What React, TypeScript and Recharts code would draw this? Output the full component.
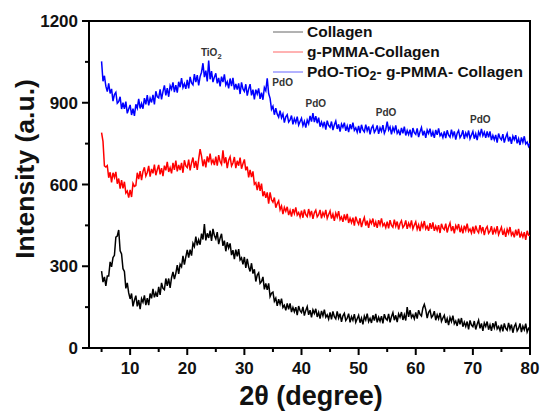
import React from "react"
import {
  Label,
  Legend,
  Line,
  LineChart,
  ReferenceArea,
  ReferenceDot,
  XAxis,
  YAxis,
} from "recharts"

// XRD scans, every 0.25 degree from 5 to 80 (2θ)
const collagen = [
  282, 242, 261, 228, 264, 264, 316, 298, 332, 340, 407, 411, 433, 357, 345, 291, 281, 219, 239, 202,
  180, 200, 153, 175, 192, 153, 176, 143, 181, 168, 193, 157, 183, 157, 200, 182, 217, 186, 203, 188,
  224, 195, 239, 219, 214, 255, 228, 255, 221, 258, 279, 253, 274, 304, 272, 307, 298, 338, 306, 334,
  360, 332, 361, 339, 384, 372, 409, 377, 397, 379, 420, 398, 455, 395, 421, 404, 431, 393, 437, 413,
  400, 425, 381, 403, 419, 375, 394, 355, 388, 367, 384, 341, 359, 326, 361, 336, 363, 323, 331, 307,
  334, 294, 327, 297, 281, 311, 273, 289, 244, 268, 276, 237, 244, 261, 215, 237, 213, 237, 189, 201,
  205, 172, 183, 155, 179, 161, 181, 149, 157, 138, 164, 142, 164, 132, 149, 133, 150, 121, 154, 137,
  130, 151, 119, 138, 152, 122, 139, 112, 140, 127, 144, 114, 131, 108, 136, 118, 141, 113, 122, 106,
  131, 105, 134, 115, 107, 134, 110, 126, 96, 118, 127, 101, 109, 126, 94, 115, 102, 124, 94, 107,
  120, 93, 110, 87, 117, 103, 126, 97, 109, 92, 120, 101, 125, 94, 113, 98, 117, 90, 124, 108,
  102, 125, 94, 115, 130, 102, 120, 95, 125, 113, 132, 103, 122, 101, 150, 114, 139, 112, 122, 107,
  131, 108, 139, 123, 117, 147, 160, 141, 110, 131, 139, 112, 119, 135, 102, 122, 107, 129, 98, 110,
  120, 92, 108, 84, 112, 97, 119, 89, 99, 81, 108, 87, 110, 78, 95, 79, 97, 68, 101, 84,
  78, 99, 68, 87, 102, 72, 90, 63, 92, 79, 97, 67, 85, 63, 91, 74, 98, 70, 79, 64,
  86, 61, 90, 72, 65, 92, 69, 86, 56, 79, 89, 63, 72, 90, 58, 80, 67, 89, 59, 72,
  66,
]

const pmmaCollagen = [
  790, 758, 668, 664, 669, 625, 645, 608, 643, 626, 646, 603, 622, 585, 616, 586, 610, 569, 576, 552,
  580, 554, 604, 593, 596, 643, 620, 649, 616, 648, 663, 631, 644, 668, 629, 657, 641, 673, 634, 654,
  672, 637, 660, 631, 669, 652, 683, 646, 662, 641, 679, 654, 688, 648, 672, 653, 679, 643, 689, 668,
  662, 691, 652, 679, 699, 661, 687, 654, 693, 730, 704, 667, 692, 663, 703, 681, 713, 678, 690, 671,
  702, 669, 708, 684, 674, 725, 678, 700, 660, 689, 702, 668, 679, 701, 660, 687, 669, 699, 658, 676,
  692, 652, 666, 626, 654, 627, 648, 601, 607, 579, 610, 577, 603, 557, 575, 551, 571, 530, 571, 544,
  535, 552, 515, 530, 540, 507, 521, 491, 516, 502, 518, 488, 505, 482, 510, 493, 516, 488, 497, 481,
  504, 478, 508, 489, 482, 510, 486, 503, 474, 496, 506, 481, 489, 507, 476, 497, 484, 507, 476, 490,
  503, 475, 491, 467, 495, 480, 502, 471, 481, 463, 490, 469, 492, 459, 476, 460, 478, 449, 482, 465,
  454, 476, 444, 464, 479, 449, 467, 441, 469, 457, 475, 445, 463, 441, 469, 452, 476, 448, 457, 442,
  464, 439, 469, 450, 443, 471, 447, 464, 435, 457, 467, 442, 450, 468, 437, 458, 445, 468, 437, 451,
  463, 436, 452, 429, 458, 443, 466, 437, 447, 430, 458, 437, 461, 430, 447, 432, 451, 422, 456, 440,
  434, 456, 424, 444, 459, 429, 447, 421, 449, 437, 455, 425, 443, 421, 449, 432, 456, 428, 437, 422,
  445, 420, 449, 431, 423, 451, 427, 444, 414, 437, 446, 421, 429, 447, 416, 437, 424, 447, 416, 430,
  443, 415, 432, 408, 436, 421, 444, 414, 424, 406, 434, 413, 437, 405, 422, 407, 425, 397, 430, 414,
  412,
]

const pdoComposite = [
  1052, 979, 999, 961, 941, 971, 934, 951, 906, 930, 938, 898, 904, 922, 877, 900, 878, 904, 861, 877,
  892, 855, 878, 852, 894, 880, 914, 879, 897, 878, 917, 894, 928, 890, 917, 901, 929, 894, 942, 922,
  918, 949, 912, 941, 964, 927, 954, 922, 963, 950, 975, 939, 965, 937, 977, 957, 990, 956, 970, 951,
  984, 953, 995, 973, 966, 1005, 976, 1001, 964, 996, 1012, 1045, 994, 1018, 978, 1055, 986, 1016, 976, 994,
  1008, 971, 991, 960, 996, 976, 1004, 965, 977, 953, 989, 961, 991, 948, 969, 948, 971, 932, 975, 951,
  942, 968, 926, 950, 968, 927, 948, 912, 948, 932, 953, 914, 937, 911, 956, 944, 990, 934, 916, 876,
  887, 856, 880, 858, 847, 871, 845, 859, 827, 848, 856, 829, 837, 853, 821, 842, 827, 849, 818, 831,
  843, 816, 832, 809, 837, 823, 852, 831, 862, 829, 851, 825, 845, 812, 829, 813, 830, 801, 834, 817,
  810, 831, 800, 819, 833, 804, 821, 794, 822, 810, 827, 797, 815, 792, 821, 803, 827, 799, 808, 792,
  815, 789, 819, 800, 793, 820, 797, 813, 784, 807, 816, 791, 800, 817, 786, 808, 795, 818, 788, 802,
  831, 800, 811, 784, 809, 795, 817, 788, 798, 781, 808, 788, 812, 780, 798, 783, 801, 773, 807, 790,
  784, 806, 774, 794, 809, 780, 797, 771, 800, 787, 805, 776, 793, 771, 800, 782, 806, 779, 787, 772,
  795, 770, 799, 781, 774, 801, 778, 795, 765, 788, 798, 772, 781, 799, 767, 789, 776, 798, 768, 782,
  795, 768, 786, 763, 793, 780, 804, 779, 792, 771, 795, 773, 795, 763, 780, 764, 782, 754, 787, 771,
  764, 785, 754, 773, 787, 758, 775, 749, 777, 764, 781, 751, 768, 745, 773, 755, 777, 749, 756, 740,
  752,
]

const seriesNames = ["Collagen", "g-PMMA-Collagen", "PdO-TiO2- g-PMMA- Collagen"]
const seriesKeys = ["collagen", "pmma", "pdo"]
const seriesColors = ["#000000", "#ff0000", "#0000ff"]

const xTicks = [5, 10, 15, 20, 25, 30, 35, 40, 45, 50, 55, 60, 65, 70, 75, 80]
const yTicks = [0, 150, 300, 450, 600, 750, 900, 1050, 1200]

// peak labels placed in data coordinates
const peakLabels = [
  { x: 24.2, y: 1086, text: "TiO2" },
  { x: 36.7, y: 976, text: "PdO" },
  { x: 42.5, y: 899, text: "PdO" },
  { x: 54.8, y: 866, text: "PdO" },
  { x: 71.3, y: 840, text: "PdO" },
]

const twoTheta = collagen.map((_, i) => 5 + i * 0.25)
const data = twoTheta.map((x, i) => ({
  x,
  collagen: collagen[i],
  pmma: pmmaCollagen[i],
  pdo: pdoComposite[i],
}))

const FONT = '"Liberation Sans", Arial, sans-serif'

// splits "TiO2" so the 2 can be a subscript
function withSub(name: string, svg: boolean) {
  const idx = name.indexOf("TiO2")
  if (idx < 0) return name
  const before = name.slice(0, idx + 3)
  const after = name.slice(idx + 4)
  if (svg) {
    return (
      <>
        {before}
        <tspan dy={3} fontSize="75%">2</tspan>
        <tspan dy={-3}>{after}</tspan>
      </>
    )
  }
  return (
    <>
      {before}
      <span style={{ fontSize: "0.8em", position: "relative", top: "0.3em" }}>2</span>
      {after}
    </>
  )
}

const XTick = (props: any) => {
  const { x, y, payload } = props
  const major = payload.value % 10 === 0
  return (
    <g>
      <line x1={x} y1={y} x2={x} y2={y + (major ? 7 : 4)} stroke="#000" strokeWidth={2} />
      {major && (
        <text x={x} y={y + 26} textAnchor="middle" fontFamily={FONT} fontWeight="bold" fontSize={17} fill="#111">
          {payload.value}
        </text>
      )}
    </g>
  )
}

const YTick = (props: any) => {
  const { x, y, payload } = props
  const major = payload.value % 300 === 0
  return (
    <g>
      <line x1={x - (major ? 7 : 4)} y1={y} x2={x} y2={y} stroke="#000" strokeWidth={2} />
      {major && (
        <text x={x - 11} y={y + 6} textAnchor="end" fontFamily={FONT} fontWeight="bold" fontSize={17} fill="#111">
          {payload.value}
        </text>
      )}
    </g>
  )
}

const LegendBox = () => (
  <div style={{ fontFamily: FONT, fontWeight: "bold", fontSize: 15.5, color: "#111" }}>
    {seriesNames.map((name, i) => (
      <div key={name} style={{ display: "flex", alignItems: "center", height: 20, whiteSpace: "nowrap" }}>
        <svg width={34} height={20}>
          <line x1={0} y1={10} x2={30} y2={10} stroke={seriesColors[i]} strokeOpacity={0.6} strokeWidth={1} />
        </svg>
        <span style={{ lineHeight: "20px" }}>{withSub(name, false)}</span>
      </div>
    ))}
  </div>
)

export default function App() {
  return (
    <div style={{ position: "absolute", left: 0, top: 0, width: 541, height: 414, background: "#fff" }}>
      <LineChart width={541} height={414} data={data} margin={{ top: 21, right: 11, left: 0, bottom: 0 }}>
        <XAxis
          dataKey="x"
          type="number"
          domain={[2.8, 80]}
          ticks={xTicks}
          tick={<XTick />}
          tickSize={0}
          tickMargin={0}
          tickLine={false}
          axisLine={{ stroke: "#000", strokeWidth: 2 }}
          height={66}
          allowDataOverflow
        >
          <Label
            content={() => (
              <text x={311} y={405} textAnchor="middle" fontFamily={FONT} fontWeight="bold" fontSize={27} fill="#111">
                2θ (degree)
              </text>
            )}
          />
        </XAxis>
        <YAxis
          type="number"
          domain={[0, 1200]}
          ticks={yTicks}
          tick={<YTick />}
          tickSize={0}
          tickMargin={0}
          tickLine={false}
          axisLine={{ stroke: "#000", strokeWidth: 2 }}
          width={89}
        >
          <Label
            content={() => (
              <text
                x={25}
                y={169}
                transform="rotate(-90, 25, 169)"
                textAnchor="middle"
                dominantBaseline="central"
                fontFamily={FONT}
                fontWeight="bold"
                fontSize={26.5}
                fill="#111"
              >
                Intensity (a.u.)
              </text>
            )}
          />
        </YAxis>
        <ReferenceArea x1={2.8} x2={80} y1={0} y2={1200} fill="none" stroke="#000" strokeWidth={2} ifOverflow="visible" />
        {seriesKeys.map((k, i) => (
          <Line
            key={k}
            type="linear"
            dataKey={k}
            name={seriesNames[i]}
            stroke={seriesColors[i]}
            strokeWidth={1.5}
            dot={false}
            isAnimationActive={false}
          />
        ))}
        {peakLabels.map((a, i) => (
          <ReferenceDot
            key={i}
            x={a.x}
            y={a.y}
            r={0}
            fill="none"
            stroke="none"
            label={{
              content: (p: any) => {
                const vb = p.viewBox || { x: 0, y: 0 }
                return (
                  <text x={vb.x} y={vb.y + 4} textAnchor="middle" fontFamily={FONT} fontWeight="bold" fontSize={10} fill="#333">
                    {withSub(a.text, true)}
                  </text>
                )
              },
            }}
          />
        ))}
        <Legend
          layout="horizontal"
          verticalAlign="middle"
          align="center"
          content={<LegendBox />}
          wrapperStyle={{ left: 273, top: 22, width: 260 }}
        />
      </LineChart>
    </div>
  )
}
